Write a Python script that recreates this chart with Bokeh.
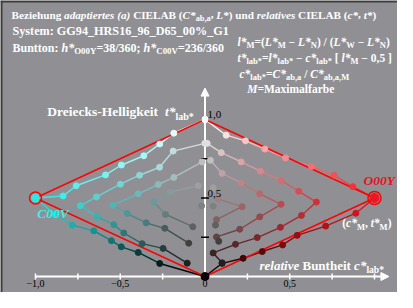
import numpy as np
from bokeh.plotting import figure
from bokeh.models import Range1d, Label, Arrow, NormalHead, ColumnDataSource
from bokeh.embed import file_html
from bokeh.resources import INLINE

# ---------------- data: relative CIELAB (c*lab*, t*lab*) ----------------
# hue O00Y (right side), nested V-lines k = 0 (outer) .. 4 (inner)
o_c0 = [0.0, 0.125, 0.239, 0.353, 0.475, 0.628, 0.762, 0.872, 1.0, 0.89, 0.712, 0.544, 0.458, 0.338, 0.225, 0.101, 0.0]
o_t0 = [1.0, 0.900, 0.864, 0.812, 0.755, 0.700, 0.645, 0.572, 0.5, 0.403, 0.321, 0.262, 0.201, 0.159, 0.116, 0.084, 0.0]
o_c1 = [0.013, 0.096, 0.213, 0.327, 0.449, 0.553, 0.657, 0.569, 0.445, 0.308, 0.180, 0.048, 0.101]
o_t1 = [0.848, 0.789, 0.730, 0.671, 0.612, 0.543, 0.474, 0.389, 0.313, 0.248, 0.205, 0.150, 0.087]
o_c2 = [0.032, 0.101, 0.213, 0.323, 0.449, 0.323, 0.205, 0.068, 0.081]
o_t2 = [0.740, 0.657, 0.596, 0.527, 0.460, 0.380, 0.301, 0.252, 0.224]
o_c3 = [0.048, 0.076, 0.219, 0.068, 0.062]
o_t3 = [0.566, 0.494, 0.445, 0.362, 0.327]
o_c4 = [0.048]
o_t4 = [0.448]
# hue C00V (left side)
v_c0 = [0.0, -0.184, -0.267, -0.361, -0.493, -0.587, -0.760, -0.837, -1.0, -0.89, -0.783, -0.656, -0.552, -0.494, -0.394, -0.267, 0.0]
v_t0 = [1.0, 0.913, 0.844, 0.769, 0.710, 0.647, 0.578, 0.513, 0.5, 0.40, 0.327, 0.291, 0.228, 0.189, 0.153, 0.083, 0.0]
v_c1 = [-0.001, -0.188, -0.268, -0.386, -0.499, -0.640, -0.735, -0.636, -0.538, -0.479, -0.371, -0.247, -0.105]
v_t1 = [0.848, 0.799, 0.696, 0.645, 0.588, 0.507, 0.451, 0.380, 0.330, 0.277, 0.209, 0.179, 0.085]
v_c2 = [-0.017, -0.184, -0.276, -0.394, -0.544, -0.459, -0.347, -0.237, -0.096]
v_t2 = [0.730, 0.631, 0.586, 0.527, 0.454, 0.401, 0.342, 0.307, 0.212]
v_c3 = [-0.040, -0.204, -0.302, -0.233, -0.072]
v_t3 = [0.578, 0.539, 0.474, 0.395, 0.317]
v_c4 = [-0.020]
v_t4 = [0.450]

x_ticks = [-1.0, -0.75, -0.5, -0.25, 0.0, 0.25, 0.5, 0.75, 1.0]
x_tick_labels = ["\u22121,0", "", "\u22120,5", "", "0", "", "0,5", "", ""]
y_ticks = [0.25, 0.5, 0.75, 1.0]
y_tick_labels = ["", "0,5", "", "1,0"]

# ---------------- styling ----------------
BG = "#909094"
M_RED = (236, 24, 32)
M_CYAN = (40, 232, 232)
FONT = "Liberation Serif"
WID, HEI = 397, 292

# canvas-pixel <-> data mapping
SX, SY = 169.5, 157.0
OXC, OYC = 204.5, 276.0
def cx(X):
    return (X - OXC) / SX
def cy(Y):
    return (OYC - Y) / SY
# reference-plot pixel -> data (for labels placed relative to the diagram)
def rx(X):
    return (X - 204.5) / 169.5
def ry(Y):
    return (288.7 - Y) / 169.5

p = figure(width=WID, height=HEI, x_range=Range1d(cx(0), cx(WID)), y_range=Range1d(cy(HEI), cy(0)),
           x_axis_type=None, y_axis_type=None, toolbar_location=None, output_backend="svg",
           min_border=0, background_fill_color=BG, border_fill_color=BG, outline_line_color=None)

# dark frame lines (top, left)
p.segment(x0=[cx(0), cx(1)], y0=[cy(1), cy(0)], x1=[cx(WID), cx(1)], y1=[cy(1), cy(HEI)],
          line_color="#3c3c3e", line_width=2)

# ---------------- axes ----------------
p.segment(x0=[x_ticks[0]], y0=[0], x1=[1.06], y1=[0], line_color="white", line_width=2)
p.segment(x0=[0], y0=[0], x1=[0], y1=[1.17], line_color="white", line_width=2)
p.add_layout(Arrow(end=NormalHead(size=8, fill_color="white", line_color="white"),
                   x_start=1.04, y_start=0, x_end=1.085, y_end=0, line_color="white", line_width=2, level="underlay"))
p.add_layout(Arrow(end=NormalHead(size=8, fill_color="white", line_color="white"),
                   x_start=0, y_start=1.15, x_end=0, y_end=1.2, line_color="white", line_width=2, level="underlay"))
p.segment(x0=x_ticks, y0=[-3 / SY] * len(x_ticks), x1=x_ticks, y1=[3 / SY] * len(x_ticks),
          line_color="white", line_width=1.5)
p.segment(x0=[-4 / SX] * len(y_ticks), y0=y_ticks, x1=[4 / SX] * len(y_ticks), y1=y_ticks,
          line_color="black", line_width=1.5)
for xv, lab in zip(x_ticks, x_tick_labels):
    if lab:
        p.add_layout(Label(x=xv, y=cy(279.5), text=lab, text_font=FONT, text_font_size="10px",
                           text_color="black", text_align="center", text_baseline="top"))
for yv, lab in zip(y_ticks, y_tick_labels):
    if lab:
        p.add_layout(Label(x=cx(207), y=yv + 5 / SY, text=lab, text_font=FONT, text_font_size="11px",
                           text_color="black", text_align="left", text_baseline="middle"))


# ---------------- data lines and points ----------------
def vcolors(k, M):
    m = 8 - 2 * k
    idx = [(8 - k - j, k, j) for j in range(m + 1)]
    idx += [(k, 8 - k - (m - 1 - j), m - 1 - j) for j in range(m)]
    return [tuple((w * 255 + c * M[i]) / 8.0 for i in range(3)) for (w, n, c) in idx]

def hexc(rgb):
    return "#%02x%02x%02x" % tuple(int(round(v)) for v in rgb)

series = [(o_c0, o_t0, 0, M_RED), (o_c1, o_t1, 1, M_RED), (o_c2, o_t2, 2, M_RED),
          (o_c3, o_t3, 3, M_RED), (o_c4, o_t4, 4, M_RED),
          (v_c0, v_t0, 0, M_CYAN), (v_c1, v_t1, 1, M_CYAN), (v_c2, v_t2, 2, M_CYAN),
          (v_c3, v_t3, 3, M_CYAN), (v_c4, v_t4, 4, M_CYAN)]

px, py, pc = [], [], []
for cs, ts, k, M in series:
    cols = vcolors(k, M)
    if len(cs) > 1:
        segc = [hexc(tuple((a + b) / 2 for a, b in zip(cols[i], cols[i + 1]))) for i in range(len(cs) - 1)]
        p.segment(x0=cs[:-1], y0=ts[:-1], x1=cs[1:], y1=ts[1:], line_color=segc, line_width=1.4)
    px += cs
    py += ts
    pc += [hexc(c) for c in cols]

# red triangle through W, maximal colours and N
p.line([o_c0[0], o_c0[8], o_c0[-1]], [o_t0[0], o_t0[8], o_t0[-1]], line_color="#ff0000", line_width=1.5)
p.line([v_c0[0], v_c0[8], v_c0[-1]], [v_t0[0], v_t0[8], v_t0[-1]], line_color="#ff0000", line_width=1.5)

src = ColumnDataSource(dict(x=px, y=py, c=pc))
p.scatter("x", "y", source=src, size=6, fill_color="c", line_color="c")

# maximal colours
p.scatter([o_c0[8]], [o_t0[8]], size=9, fill_color=hexc(M_RED), line_color=hexc(M_RED))
p.scatter([o_c0[8]], [o_t0[8]], size=13, fill_color=None, line_color="#ff0000", line_width=1.5)
p.scatter([v_c0[8]], [v_t0[8]], size=8, fill_color=hexc(M_CYAN), line_color=hexc(M_CYAN))
p.scatter([v_c0[8]], [v_t0[8]], size=12, fill_color=None, line_color="#ff0000", line_width=1.5)
p.scatter([o_c0[-1]], [o_t0[-1]], size=8, fill_color="black", line_color="black")

# ---------------- rich text helper ----------------
TB = {' ': 250, '(': 333, ')': 333, '*': 500, ',': 250, '-': 333, '.': 250, '/': 278, ':': 333, ';': 333,
      '=': 570, '[': 333, ']': 333, '_': 500, '%': 1000, '\u2212': 570}
for ch in "0123456789":
    TB[ch] = 500
TB.update(dict(zip("ABCDEFGHIJKLMNOPQRSTUVWXYZ",
                   [722, 667, 722, 722, 667, 611, 778, 778, 389, 500, 778, 667, 944, 722, 778, 611, 778, 722, 556, 667, 722, 722, 1000, 722, 722, 667])))
TB.update(dict(zip("abcdefghijklmnopqrstuvwxyz",
                   [500, 556, 444, 556, 444, 333, 500, 556, 278, 333, 556, 278, 833, 556, 500, 556, 556, 444, 389, 333, 556, 500, 722, 500, 500, 444])))
TBI = dict(TB)
TBI.update(dict(zip("ABCDEFGHIJKLMNOPQRSTUVWXYZ",
                    [667, 667, 667, 722, 667, 667, 722, 778, 389, 500, 667, 611, 889, 722, 722, 611, 722, 667, 556, 611, 722, 667, 889, 667, 611, 611])))
TBI.update(dict(zip("abcdefghijklmnopqrstuvwxyz",
                    [500, 500, 444, 500, 444, 333, 500, 556, 278, 278, 500, 278, 778, 556, 500, 500, 500, 389, 389, 278, 556, 444, 667, 500, 444, 389])))

def width(s, style):
    tab = TBI if "italic" in style else TB
    return sum(tab.get(ch, 500) for ch in s)

def rich(X, Y, pieces, fs, color, plot=False):
    x0 = rx(X) if plot else cx(X)
    y0 = ry(Y) if plot else cy(Y)
    adv = 0.0
    for item in pieces:
        s, style = item[0], item[1]
        sub = len(item) > 2 and item[2]
        size = fs * 0.74 if sub else fs
        off = 0.32 * fs if sub else 0.0
        lead = len(s) - len(s.lstrip(" "))
        txt = s.strip(" ")
        if txt:
            p.add_layout(Label(x=x0 + (adv + lead * 250 * size / 1000.0) / SX, y=y0 - off / SY, text=txt,
                               text_font=FONT, text_font_size="%.1fpx" % size, text_font_style=style,
                               text_color=color, text_align="left", text_baseline="middle"))
        adv += width(s, style) * size / 1000.0

B, BI = "bold", "bold italic"
W = "white"
rich(11, 14, [("Beziehung ", B), ("adaptiertes (a)", BI), (" CIELAB (", B), ("C*", BI), ("ab,a", B, True),
              (", ", B), ("L*", BI), (") und ", B), ("relatives", BI), (" CIELAB (", B), ("c*", BI), (", ", B),
              ("t*", BI), (")", B)], 11.2, W)
rich(12, 30, [("System: GG94_HRS16_96_D65_00%_G1", B)], 12.2, W)
rich(12, 47, [("Buntton: ", B), ("h*", BI), ("O00Y", B, True), ("=38/360; ", B), ("h*", BI), ("C00V", B, True),
              ("=236/360", B)], 12.0, W)
rich(237, 41, [("l*", BI), ("M", B, True), ("=(", B), ("L*", BI), ("M", B, True), (" \u2212 ", B), ("L*", BI),
               ("N", B, True), (") / (", B), ("L*", BI), ("W", B, True), (" \u2212 ", B), ("L*", BI), ("N", B, True),
               (")", B)], 11.5, W)
rich(237, 57, [("t*", BI), ("lab*", B, True), ("=", B), ("l*", BI), ("lab*", B, True), (" \u2212 ", B), ("c*", BI),
               ("lab*", B, True), (" [ ", B), ("l*", BI), ("M", B, True), (" \u2212 0,5 ]", B)], 11.5, W)
rich(239, 73, [("c*", BI), ("lab*", B, True), ("=", B), ("C*", BI), ("ab,a", B, True), (" / ", B), ("C*", BI),
               ("ab,a,M", B, True)], 11.5, W)
rich(246.7, 88, [("M", BI), ("=Maximalfarbe", B)], 11.5, W)

rich(46.7, 111, [("Dreiecks-Helligkeit  ", B), ("t*", BI), ("lab*", B, True)], 13.5, W, plot=True)
rich(259, 277, [("relative", BI), (" Buntheit ", B), ("c*", BI), ("lab*", B, True)], 13.0, W, plot=True)
rich(341.7, 231, [("(", B), ("c*", BI), ("M", B, True), (", ", B), ("t*", BI), ("M", B, True), (")", B)], 11.5, W, plot=True)
rich(363, 185, [("O00Y", BI)], 13.5, "#e8101c", plot=True)
rich(36.7, 221, [("C00V", BI)], 13.5, "#30f0f0", plot=True)

open("out.html", "w").write(file_html(p, INLINE))
